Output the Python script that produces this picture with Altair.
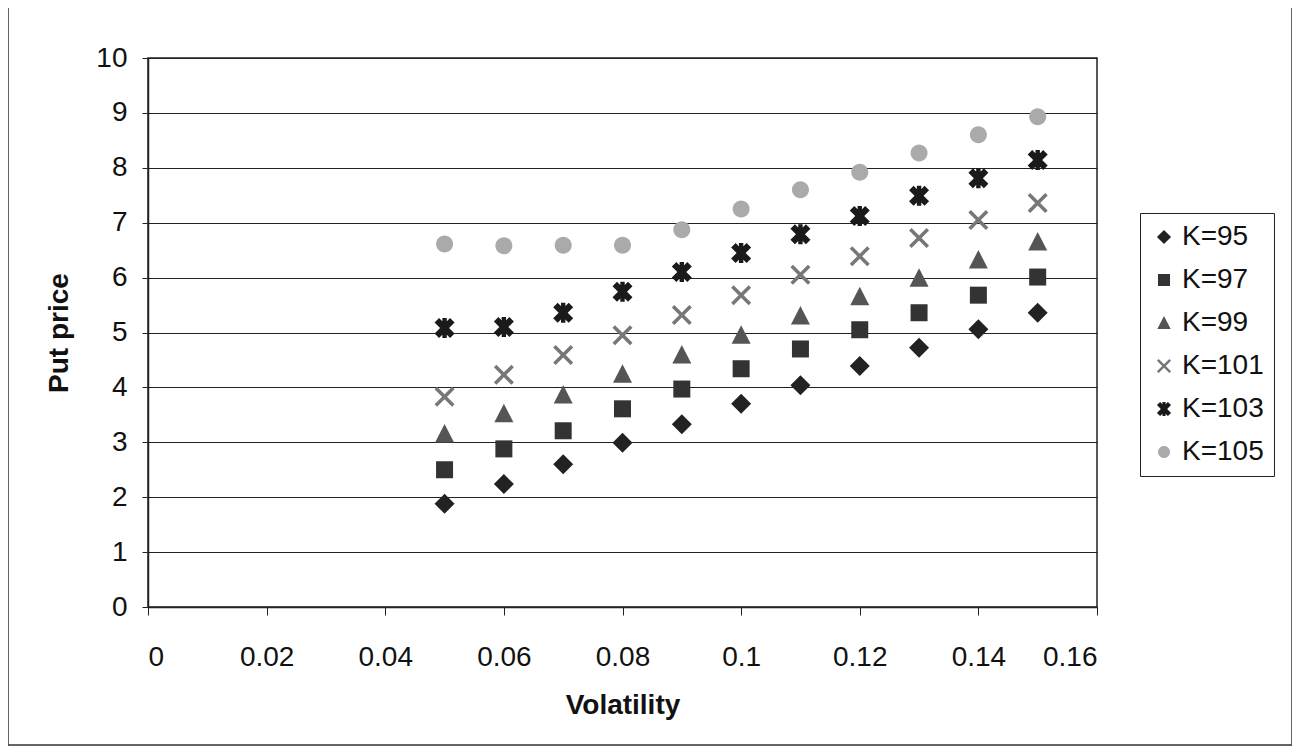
import altair as alt
import pandas as pd

vol = [0.05, 0.06, 0.07, 0.08, 0.09, 0.10, 0.11, 0.12, 0.13, 0.14, 0.15]
k95 = [1.88, 2.24, 2.60, 2.99, 3.33, 3.70, 4.04, 4.39, 4.72, 5.06, 5.36]
k97 = [2.50, 2.88, 3.21, 3.61, 3.97, 4.34, 4.70, 5.05, 5.36, 5.68, 6.01]
k99 = [3.15, 3.52, 3.86, 4.24, 4.59, 4.95, 5.30, 5.65, 5.99, 6.32, 6.65]
k101 = [3.83, 4.23, 4.59, 4.95, 5.32, 5.68, 6.05, 6.39, 6.72, 7.05, 7.36]
k103 = [5.08, 5.10, 5.36, 5.74, 6.10, 6.45, 6.79, 7.12, 7.49, 7.81, 8.14]
k105 = [6.61, 6.58, 6.59, 6.59, 6.87, 7.25, 7.60, 7.92, 8.27, 8.60, 8.93]

series_names = ["K=95", "K=97", "K=99", "K=101", "K=103", "K=105"]
series_vals = [k95, k97, k99, k101, k103, k105]

rows = []
for name, vals in zip(series_names, series_vals):
    for v, p in zip(vol, vals):
        rows.append({"Volatility": v, "Put price": p, "Series": name})
df = pd.DataFrame(rows)

diamond_shape = "M0,-1L1,0L0,1L-1,0Z"
square_shape = "M-0.85,-0.85L0.85,-0.85L0.85,0.85L-0.85,0.85Z"
triangle_shape = "M0,-1L0.95,0.85L-0.95,0.85Z"
x_shape = ("M-1,-0.75L-0.75,-1L0,-0.25L0.75,-1L1,-0.75L0.25,0L1,0.75L0.75,1"
           "L0,0.25L-0.75,1L-1,0.75L-0.25,0Z")
star_shape = ("M-1,-0.55L-0.55,-1L0,-0.45L0.55,-1L1,-0.55L0.45,0L1,0.55L0.55,1"
              "L0,0.45L-0.55,1L-1,0.55L-0.45,0Z"
              "M-0.22,-1L0.22,-1L0.22,1L-0.22,1Z")
circle_shape = "M-0.85,0A0.85,0.85 0 1,0 0.85,0A0.85,0.85 0 1,0 -0.85,0Z"
shapes = [diamond_shape, square_shape, triangle_shape, x_shape, star_shape, circle_shape]
colors = ["#222222", "#333333", "#555555", "#777777", "#1a1a1a", "#aaaaaa"]

FONT = "Liberation Sans"

points = alt.Chart(df).mark_point(filled=True, opacity=1, size=400).encode(
    x=alt.X("Volatility:Q",
            scale=alt.Scale(domain=[0, 0.16], nice=False),
            axis=alt.Axis(values=[0, 0.02, 0.04, 0.06, 0.08, 0.1, 0.12, 0.14, 0.16],
                          labelExpr="datum.value == 0 ? '0' : format(datum.value, '.2~f')",
                          grid=False, tickSize=8, labelPadding=28,
                          titlePadding=20)),
    y=alt.Y("Put price:Q",
            scale=alt.Scale(domain=[0, 10], nice=False),
            axis=alt.Axis(values=list(range(0, 11)), grid=True, tickSize=6,
                          labelPadding=15, titlePadding=22)),
    color=alt.Color("Series:N", sort=series_names,
                    scale=alt.Scale(domain=series_names, range=colors),
                    legend=alt.Legend(title=None, orient="none",
                                      legendX=992, legendY=155,
                                      strokeColor="#222222", fillColor="white",
                                      padding=10, rowPadding=15,
                                      symbolSize=200, labelFontSize=28,
                                      labelFont=FONT, labelColor="#111111",
                                      symbolOpacity=1, labelOffset=4)),
    shape=alt.Shape("Series:N", sort=series_names,
                    scale=alt.Scale(domain=series_names, range=shapes)),
)

frame = alt.Chart(pd.DataFrame({"a": [0]})).mark_rect(
    fill=None, stroke="#333333", strokeWidth=1.5
).encode(
    x=alt.value(-140), x2=alt.value(1144),
    y=alt.value(-52), y2=alt.value(687),
)

chart = alt.layer(frame, points).properties(
    width=949, height=549,
    padding={"left": 140, "top": 50, "right": 195, "bottom": 140},
    autosize=alt.AutoSizeParams(type="none"),
).configure_view(
    stroke="#222222", strokeWidth=1.5
).configure_axis(
    labelFont=FONT, titleFont=FONT, labelFontSize=28, titleFontSize=28,
    labelColor="#111111", titleColor="#111111", titleFontWeight="bold",
    domainColor="#222222", tickColor="#222222", gridColor="#222222",
    gridWidth=1, domainWidth=1.5,
)

chart.save("out.html", embed_options={"renderer": "svg", "actions": False})
